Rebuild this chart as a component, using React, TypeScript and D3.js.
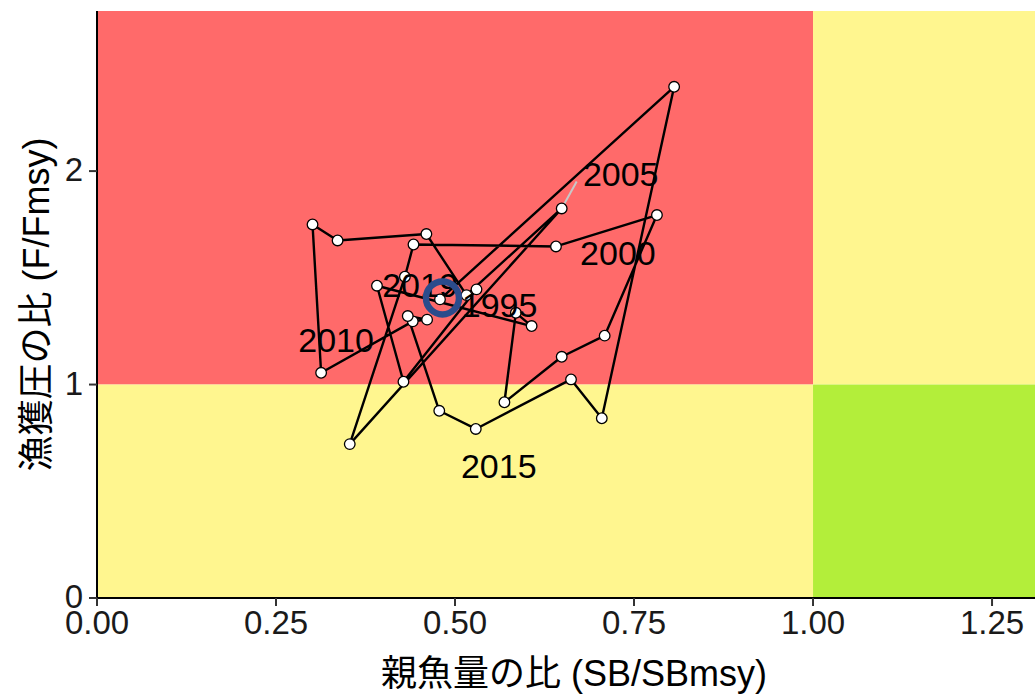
import React from "react";
import * as d3 from "d3";

// ---- data ----
const years = [1992, 1993, 1994, 1995, 1996, 1997, 1998, 1999, 2000, 2001, 2002, 2003, 2004, 2005, 2006, 2007, 2008, 2009, 2010, 2011, 2012, 2013, 2014, 2015, 2016, 2017, 2018, 2019];
const sbRatio = [0.530, 0.428, 0.391, 0.607, 0.585, 0.569, 0.649, 0.709, 0.782, 0.641, 0.442, 0.430, 0.353, 0.649, 0.516, 0.460, 0.336, 0.301, 0.313, 0.441, 0.461, 0.434, 0.478, 0.529, 0.662, 0.705, 0.806, 0.479];
const fRatio = [1.446, 1.013, 1.463, 1.274, 1.336, 0.917, 1.130, 1.229, 1.794, 1.647, 1.656, 1.505, 0.721, 1.825, 1.419, 1.705, 1.675, 1.750, 1.055, 1.296, 1.304, 1.321, 0.877, 0.792, 1.024, 0.842, 2.395, 1.399];
const labelYears = [1995, 2000, 2005, 2010, 2015, 2019];
const xTicks = [0, 0.25, 0.5, 0.75, 1.0, 1.25];
const yTicks = [0, 1, 2];
const xTitle = "親魚量の比 (SB/SBmsy)";
const yTitle = "漁獲圧の比 (F/Fmsy)";

const W = 1035;
const H = 695;
const FONT = "'Liberation Sans', Arial, 'Noto Sans CJK JP', sans-serif";

// label placement (pixel offsets from the point, like ggrepel output)
const labelOffset: Record<number, [number, number]> = {
  1995: [-32, -9],
  2000: [-39, 50],
  2005: [59, -22],
  2010: [15, -21],
  2015: [23, 49],
  2019: [-20, -2],
};

export default function App() {
  const x = d3.scaleLinear().domain([0, 1.31]).range([97, 1035]);
  const y = d3.scaleLinear().domain([0, 2.75]).range([598, 11]);
  const pts = years.map((yr, i) => ({ yr, sb: sbRatio[i], f: fRatio[i] }));
  const line = d3
    .line<{ sb: number; f: number }>()
    .x((d) => x(d.sb))
    .y((d) => y(d.f));
  const last = pts[pts.length - 1];
  const p2005 = pts.find((p) => p.yr === 2005)!;

  const x0 = x(0), x1 = x(1), xMax = x(1.31);
  const y0 = y(0), y1 = y(1), yMax = y(2.75);

  return (
    <svg
      width={W}
      height={H}
      style={{ position: "absolute", left: 0, top: 0, background: "#fff" }}
      fontFamily={FONT}
    >
      {/* zones */}
      <rect x={x0} y={yMax} width={x1 - x0} height={y1 - yMax} fill="#FF6A6A" />
      <rect x={x0} y={y1} width={x1 - x0} height={y0 - y1} fill="#FFF68F" />
      <rect x={x1} y={yMax} width={xMax - x1} height={y1 - yMax} fill="#FFF68F" />
      <rect x={x1} y={y1} width={xMax - x1} height={y0 - y1} fill="#B3EE3A" />

      {/* trajectory */}
      <path d={line(pts) || ""} fill="none" stroke="#000" strokeWidth={2.4} strokeLinejoin="round" />
      {/* repel segment */}
      <line
        x1={x(p2005.sb)}
        y1={y(p2005.f)}
        x2={x(p2005.sb) + 15}
        y2={y(p2005.f) - 27}
        stroke="#C8C8C8"
        strokeWidth={2}
      />
      {pts.map((p) => (
        <circle key={p.yr} cx={x(p.sb)} cy={y(p.f)} r={5.3} fill="#fff" stroke="#000" strokeWidth={1.3} />
      ))}

      {/* year labels */}
      {pts
        .filter((p) => labelYears.includes(p.yr))
        .map((p) => {
          const [dx, dy] = labelOffset[p.yr];
          return (
            <text key={"l" + p.yr} x={x(p.sb) + dx} y={y(p.f) + dy} textAnchor="middle" fontSize={34} fill="#000">
              {p.yr}
            </text>
          );
        })}
      {/* latest year */}
      <circle cx={x(last.sb) + 2.5} cy={y(last.f) - 1.5} r={16.5} fill="none" stroke="#2B4C8C" strokeWidth={6.5} />

      {/* axes */}
      <line x1={x0} y1={yMax} x2={x0} y2={y0} stroke="#000" strokeWidth={2} />
      <line x1={x0} y1={y0} x2={xMax} y2={y0} stroke="#000" strokeWidth={2} />
      {xTicks.map((t) => (
        <g key={"xt" + t}>
          <line x1={x(t)} x2={x(t)} y1={y0} y2={y0 + 8} stroke="#333" strokeWidth={2} />
          <text x={x(t)} y={y0 + 36} textAnchor="middle" fontSize={33} fill="#1a1a1a">
            {t.toFixed(2)}
          </text>
        </g>
      ))}
      {yTicks.map((t) => (
        <g key={"yt" + t}>
          <line x1={x0 - 8} x2={x0} y1={y(t)} y2={y(t)} stroke="#333" strokeWidth={2} />
          <text x={x0 - 14} y={y(t) + 10} textAnchor="end" fontSize={33} fill="#1a1a1a">
            {t}
          </text>
        </g>
      ))}
      <text x={(x0 + xMax) / 2 + 8} y={686} textAnchor="middle" fontSize={36} fill="#000">
        {xTitle}
      </text>
      <text
        transform={`translate(49, ${(yMax + y0) / 2}) rotate(-90)`}
        textAnchor="middle"
        fontSize={36}
        fill="#000"
      >
        {yTitle}
      </text>
    </svg>
  );
}
